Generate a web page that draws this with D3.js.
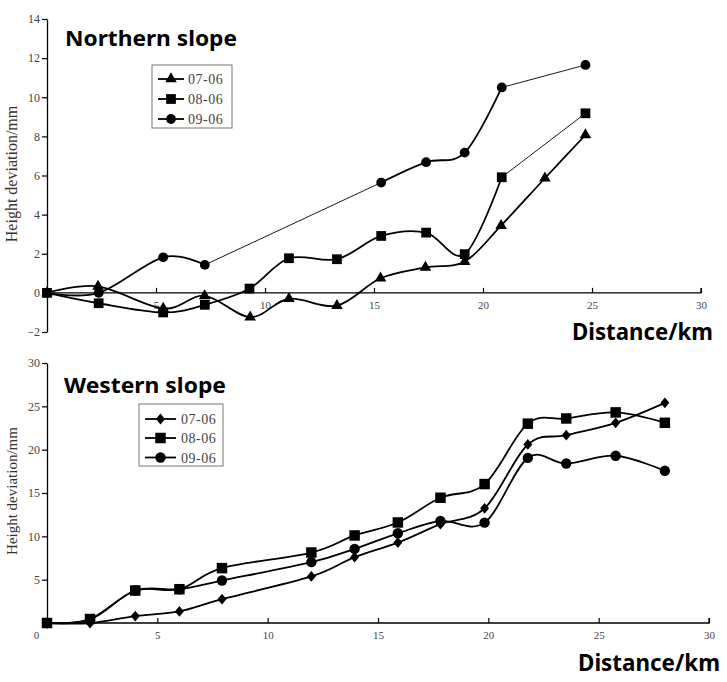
<!DOCTYPE html>
<html><head><meta charset="utf-8">
<script src="https://cdn.jsdelivr.net/npm/d3@7"></script>
<style>body{margin:0;background:#fff}svg{display:block}</style>
</head><body>
<svg id="c" width="727" height="682"></svg>
<script>
// ---------- DATA ----------
const seriesNames = ["07-06", "08-06", "09-06"];

const northX07 = [0, 2.34, 5.33, 7.23, 9.32, 11.1, 13.3, 15.3, 17.36, 19.16, 20.83, 22.84, 24.7];
const north07  = [0, 0.33, -0.8, -0.15, -1.24, -0.3, -0.65, 0.75, 1.3, 1.6, 3.44, 5.86, 8.07];
const northX08 = [0, 2.37, 5.33, 7.24, 9.29, 11.1, 13.3, 15.33, 17.39, 19.16, 20.86, 24.7];
const north08  = [0, -0.53, -1.0, -0.61, 0.22, 1.77, 1.72, 2.91, 3.08, 1.98, 5.91, 9.18];
const northX09 = [0, 2.37, 5.33, 7.24, 15.33, 17.39, 19.16, 20.86, 24.7];
const north09  = [0, 0.0, 1.82, 1.43, 5.64, 6.68, 7.17, 10.5, 11.65];

const westX  = [0, 1.95, 4.0, 6.0, 7.93, 11.98, 13.94, 15.9, 17.83, 19.83, 21.79, 23.53, 25.77, 28.0];
const west07 = [0, 0, 0.8, 1.34, 2.75, 5.37, 7.6, 9.28, 11.4, 13.23, 20.6, 21.67, 23.1, 25.4];
const west08 = [0, 0.46, 3.75, 3.9, 6.33, 8.13, 10.1, 11.6, 14.45, 16.03, 23.0, 23.6, 24.3, 23.1];
const west09 = [0, 0.4, 3.75, 3.9, 4.9, 7.02, 8.55, 10.35, 11.77, 11.58, 19.05, 18.4, 19.3, 17.56];

const northYTicks = [-2, 0, 2, 4, 6, 8, 10, 12, 14];
const northXTicks = [5, 10, 15, 20, 25, 30];
const westYTicks  = [5, 10, 15, 20, 25, 30];
const westXTicks  = [0, 5, 10, 15, 20, 25, 30];

// ---------- HELPERS ----------
const svg = d3.select("#c");
const serif = "'Liberation Serif','Times New Roman',serif";
const sans = "'Noto Sans','Open Sans',sans-serif";

const diamond = { draw(ctx, size) { const w = Math.sqrt(size) * 0.62, h = Math.sqrt(size) * 0.75;
  ctx.moveTo(0, -h); ctx.lineTo(w, 0); ctx.lineTo(0, h); ctx.lineTo(-w, 0); ctx.closePath(); } };

function drawPanel(cfg) {
  const g = svg.append("g");
  const x = d3.scaleLinear().domain(cfg.xDomain).range(cfg.xRange);
  const y = d3.scaleLinear().domain(cfg.yDomain).range(cfg.yRange);

  // y axis
  const ya = g.append("g").attr("transform", `translate(${cfg.xRange[0]},0)`)
    .call(d3.axisLeft(y).tickValues(cfg.yTicks).tickSizeInner(5).tickSizeOuter(0).tickPadding(2).tickFormat(d3.format("d")));
  ya.select(".domain").attr("stroke", "#000").attr("stroke-width", 1.3);
  ya.selectAll(".tick line").attr("stroke", "#000").attr("stroke-width", 1.2);
  ya.selectAll(".tick text").attr("font-family", serif).attr("font-size", 12).attr("fill", "#444");

  // x axis (ticks pointing up)
  const xa = g.append("g").attr("transform", `translate(0,${y(cfg.xAxisAt)})`)
    .call(d3.axisBottom(x).tickValues(cfg.xTicks).tickSizeInner(-5).tickSizeOuter(0).tickPadding(8).tickFormat(d3.format("d")));
  xa.select(".domain").attr("stroke", "#000").attr("stroke-width", 1.3);
  xa.selectAll(".tick line").attr("stroke", "#000").attr("stroke-width", 1.2);
  xa.selectAll(".tick text").attr("font-family", serif).attr("font-size", 11).attr("fill", "#444")
    .attr("dx", d => d === 0 ? -11 : 0);
  xa.select(".domain").attr("d", `M${cfg.xRange[0]},0H${cfg.xRange[1]}V-5`);

  // lines
  const smooth = d3.line().x(d => x(d[0])).y(d => y(d[1])).curve(d3.curveCardinal.tension(0));
  cfg.series.forEach(s => {
    const pts = s.xs.map((v, i) => [v, s.ys[i]]);
    let run = [pts[0]];
    for (let i = 1; i < pts.length; i++) {
      if (s.thin.includes(i - 1)) {
        if (run.length > 1) g.append("path").attr("d", smooth(run)).attr("fill", "none").attr("stroke", "#000").attr("stroke-width", 1.8);
        g.append("line").attr("x1", x(pts[i-1][0])).attr("y1", y(pts[i-1][1])).attr("x2", x(pts[i][0])).attr("y2", y(pts[i][1]))
          .attr("stroke", "#000").attr("stroke-width", 0.9);
        run = [pts[i]];
      } else run.push(pts[i]);
    }
    if (run.length > 1) g.append("path").attr("d", smooth(run)).attr("fill", "none").attr("stroke", "#000").attr("stroke-width", 1.8);
  });
  // markers
  cfg.order.forEach(k => {
    const s = cfg.series[k];
    g.selectAll(null).data(s.xs.map((v, i) => [v, s.ys[i]])).join("path")
      .attr("transform", d => `translate(${x(d[0])},${y(d[1])})`)
      .attr("d", d3.symbol().type(s.symbol).size(s.size)).attr("fill", "#000");
  });

  // legend
  const L = cfg.legend;
  g.append("rect").attr("x", L.x).attr("y", L.y).attr("width", L.w).attr("height", L.h)
    .attr("fill", "#fff").attr("stroke", "#777").attr("stroke-width", 1);
  cfg.series.forEach((s, i) => {
    const cy = L.rows[i];
    g.append("line").attr("x1", L.lx0).attr("x2", L.lx1).attr("y1", cy).attr("y2", cy).attr("stroke", "#000").attr("stroke-width", 1.8);
    g.append("path").attr("transform", `translate(${(L.lx0 + L.lx1) / 2},${cy})`)
      .attr("d", d3.symbol().type(s.symbol).size(s.size)).attr("fill", "#000");
    g.append("text").attr("x", L.tx).attr("y", cy + 5).text(seriesNames[i])
      .attr("font-family", serif).attr("font-size", 14).attr("fill", "#444").attr("letter-spacing", 0.5);
  });

  // titles
  g.append("text").attr("x", cfg.title.x).attr("y", cfg.title.y).text(cfg.title.text)
    .attr("font-family", sans).attr("font-weight", "bold").attr("font-size", 22)
    .attr("textLength", cfg.title.len).attr("lengthAdjust", "spacingAndGlyphs");
  g.append("text").attr("x", cfg.xlab.x).attr("y", cfg.xlab.y).text("Distance/km")
    .attr("font-family", sans).attr("font-weight", "bold").attr("font-size", 23)
    .attr("textLength", cfg.xlab.len).attr("lengthAdjust", "spacingAndGlyphs");
  g.append("text").attr("transform", `translate(17,${cfg.ylab.cy}) rotate(-90)`).attr("text-anchor", "middle")
    .text("Height deviation/mm").attr("font-family", serif).attr("font-size", cfg.ylab.fs).attr("fill", "#333");
}

drawPanel({
  xDomain: [0, 30], xRange: [47, 701], yDomain: [-2, 14], yRange: [332, 19],
  yTicks: northYTicks, xTicks: northXTicks, xAxisAt: 0,
  series: [
    { xs: northX07, ys: north07, symbol: d3.symbolTriangle, size: 58, thin: [] },
    { xs: northX08, ys: north08, symbol: d3.symbolSquare, size: 95, thin: [10] },
    { xs: northX09, ys: north09, symbol: d3.symbolCircle, size: 75, thin: [3, 7] }
  ],
  order: [2, 0, 1],
  legend: { x: 152, y: 65, w: 80, h: 63, rows: [79, 99, 119], lx0: 158, lx1: 184, tx: 188 },
  title: { text: "Northern slope", x: 65, y: 46, len: 172 },
  xlab: { x: 572, y: 340, len: 141 },
  ylab: { cy: 174, fs: 16 }
});

drawPanel({
  xDomain: [0, 30], xRange: [47, 709], yDomain: [0, 30], yRange: [623, 363],
  yTicks: westYTicks, xTicks: westXTicks, xAxisAt: 0,
  series: [
    { xs: westX, ys: west07, symbol: diamond, size: 52, thin: [] },
    { xs: westX, ys: west08, symbol: d3.symbolSquare, size: 110, thin: [] },
    { xs: westX, ys: west09, symbol: d3.symbolCircle, size: 85, thin: [] }
  ],
  order: [0, 2, 1],
  legend: { x: 139, y: 404, w: 84, h: 62, rows: [419, 438, 457.5], lx0: 145, lx1: 176, tx: 181 },
  title: { text: "Western slope", x: 64, y: 393, len: 162 },
  xlab: { x: 578, y: 671, len: 142 },
  ylab: { cy: 491, fs: 15 }
});
</script>
</body></html>
